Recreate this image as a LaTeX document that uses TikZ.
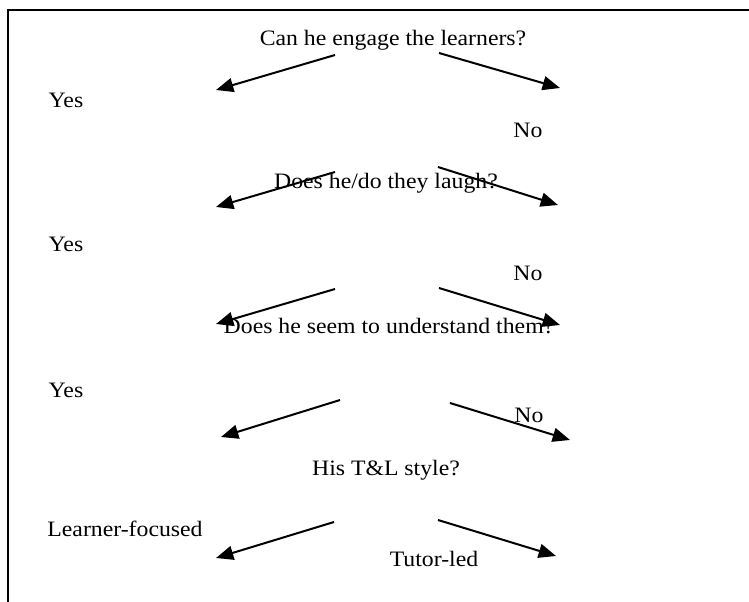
\documentclass[tikz,border=0pt]{standalone}
\usepackage{fontspec}
\setmainfont{Liberation Serif}[FakeStretch=1.08]
\usetikzlibrary{arrows.meta}

\begin{document}
\begin{tikzpicture}[x=0.75pt, y=-0.75pt, every node/.style={font=\fontsize{16.5}{20}\selectfont, inner sep=0pt, anchor=base}]

	\tikzstyle{frame} = [draw, line width=1.5pt]
	\tikzstyle{label} = [text=black]
	\tikzstyle{branch} = [draw, line width=1.5pt, -{Triangle[length=13pt, width=10.5pt]}]

	\useasboundingbox (0,0) rectangle (749,602);

	% frame (top and left only)
	\draw [frame] (749,10) -- (8,10) -- (8,602);

	% questions and answers
	\node [label] (q1) at (393,46) {Can he engage the learners?};
	\node [label] (yes1) at (66,108) {Yes};
	\node [label] (no1) at (528,138) {No};
	\node [label] (q2) at (386,189) {Does he/do they laugh?};
	\node [label] (yes2) at (66,252) {Yes};
	\node [label] (no2) at (528,280) {No};
	\node [label] (q3) at (389,333) {Does he seem to understand them?};
	\node [label] (yes3) at (66,397) {Yes};
	\node [label] (no3) at (529,422) {No};
	\node [label] (q4) at (386,475) {His T\&L style?};
	\node [label] (lf) at (125,536) {Learner-focused};
	\node [label] (tl) at (434,566) {Tutor-led};

	% arrow ends
	\coordinate (a1) at (335,55);  \coordinate (a1e) at (216,90);
	\coordinate (b1) at (439,53);  \coordinate (b1e) at (560,88);
	\coordinate (a2) at (335,172); \coordinate (a2e) at (216,207);
	\coordinate (b2) at (438,167); \coordinate (b2e) at (558,205);
	\coordinate (a3) at (335,289); \coordinate (a3e) at (216,324);
	\coordinate (b3) at (439,288); \coordinate (b3e) at (560,325);
	\coordinate (a4) at (340,400); \coordinate (a4e) at (221,437);
	\coordinate (b4) at (450,403); \coordinate (b4e) at (570,440);
	\coordinate (a5) at (334,522); \coordinate (a5e) at (216,558);
	\coordinate (b5) at (438,520); \coordinate (b5e) at (556,556);

	\path [branch] (a1) -- (a1e);
	\path [branch] (b1) -- (b1e);
	\path [branch] (a2) -- (a2e);
	\path [branch] (b2) -- (b2e);
	\path [branch] (a3) -- (a3e);
	\path [branch] (b3) -- (b3e);
	\path [branch] (a4) -- (a4e);
	\path [branch] (b4) -- (b4e);
	\path [branch] (a5) -- (a5e);
	\path [branch] (b5) -- (b5e);
\end{tikzpicture}
\end{document}
